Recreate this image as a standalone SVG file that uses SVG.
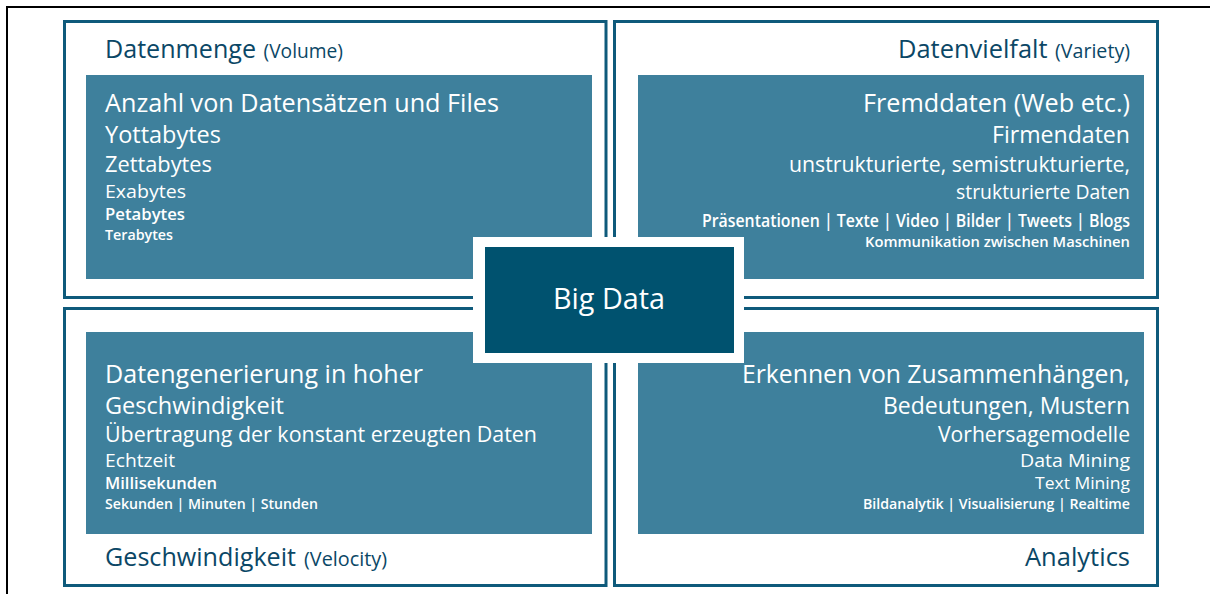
<svg xmlns="http://www.w3.org/2000/svg" width="1210" height="594" viewBox="0 0 1210 594">
<style>
.frame{fill:none;stroke:#000;stroke-width:2}
.quad{fill:#fff;stroke:#0f5a7b;stroke-width:3}
.inner{fill:#3e809c}
.t{font-family:"Open Sans","Noto Sans","Liberation Sans",sans-serif;fill:#fff}
.b{font-weight:600}
.title{font-family:"Open Sans","Noto Sans","Liberation Sans",sans-serif;fill:#0b4766}
</style>
<rect width="1210" height="594" fill="#fff"/>
<rect class="frame" x="7" y="7" width="1215" height="600"/>
<g id="q-volume">
<rect class="quad" x="64.5" y="21.5" width="541.5" height="276"/>
<rect class="inner" x="86" y="75" width="506" height="204"/>
<text class="title" x="105" y="58" font-size="26" textLength="151" lengthAdjust="spacingAndGlyphs">Datenmenge</text>
<text class="title" x="263.5" y="58" font-size="20" textLength="79.5" lengthAdjust="spacingAndGlyphs">(Volume)</text>
<text class="t" x="105" y="112" font-size="25" textLength="394" lengthAdjust="spacingAndGlyphs">Anzahl von Datensätzen und Files</text>
<text class="t" x="105" y="143" font-size="23" textLength="116" lengthAdjust="spacingAndGlyphs">Yottabytes</text>
<text class="t" x="105" y="172" font-size="22" textLength="107" lengthAdjust="spacingAndGlyphs">Zettabytes</text>
<text class="t" x="105" y="198" font-size="19" textLength="81" lengthAdjust="spacingAndGlyphs">Exabytes</text>
<text class="t b" x="105" y="220" font-size="16.5" textLength="80" lengthAdjust="spacingAndGlyphs">Petabytes</text>
<text class="t b" x="105" y="240" font-size="15" textLength="68" lengthAdjust="spacingAndGlyphs">Terabytes</text>
</g>
<g id="q-variety">
<rect class="quad" x="614.5" y="21.5" width="543" height="276"/>
<rect class="inner" x="638" y="75" width="506" height="204"/>
<text class="title" x="898" y="58" font-size="26" textLength="149.5" lengthAdjust="spacingAndGlyphs">Datenvielfalt</text>
<text class="title" x="1055" y="58" font-size="20" textLength="75" lengthAdjust="spacingAndGlyphs">(Variety)</text>
<text class="t" x="863" y="112" font-size="25" textLength="267" lengthAdjust="spacingAndGlyphs">Fremddaten (Web etc.)</text>
<text class="t" x="992" y="143" font-size="23" textLength="138" lengthAdjust="spacingAndGlyphs">Firmendaten</text>
<text class="t" x="789" y="172" font-size="21" textLength="341" lengthAdjust="spacingAndGlyphs">unstrukturierte, semistrukturierte,</text>
<text class="t" x="956" y="199" font-size="20" textLength="174" lengthAdjust="spacingAndGlyphs">strukturierte Daten</text>
<text class="t b" x="702" y="227" font-size="17.5" textLength="428" lengthAdjust="spacingAndGlyphs">Präsentationen | Texte | Video | Bilder | Tweets | Blogs</text>
<text class="t b" x="865" y="247" font-size="14.5" textLength="265" lengthAdjust="spacingAndGlyphs">Kommunikation zwischen Maschinen</text>
</g>
<g id="q-velocity">
<rect class="quad" x="64.5" y="308.5" width="541.5" height="277"/>
<rect class="inner" x="86" y="332" width="506" height="202"/>
<text class="t" x="105" y="383" font-size="25" textLength="318" lengthAdjust="spacingAndGlyphs">Datengenerierung in hoher</text>
<text class="t" x="105" y="414" font-size="23.5" textLength="179" lengthAdjust="spacingAndGlyphs">Geschwindigkeit</text>
<text class="t" x="105" y="442" font-size="21.5" textLength="432" lengthAdjust="spacingAndGlyphs">Übertragung der konstant erzeugten Daten</text>
<text class="t" x="105" y="467" font-size="19" textLength="70" lengthAdjust="spacingAndGlyphs">Echtzeit</text>
<text class="t b" x="105" y="489" font-size="16" textLength="112" lengthAdjust="spacingAndGlyphs">Millisekunden</text>
<text class="t b" x="105" y="509" font-size="14.5" textLength="213" lengthAdjust="spacingAndGlyphs">Sekunden | Minuten | Stunden</text>
<text class="title" x="105" y="566" font-size="25" textLength="191" lengthAdjust="spacingAndGlyphs">Geschwindigkeit</text>
<text class="title" x="304" y="566" font-size="20" textLength="83" lengthAdjust="spacingAndGlyphs">(Velocity)</text>
</g>
<g id="q-analytics">
<rect class="quad" x="614.5" y="308.5" width="543" height="277"/>
<rect class="inner" x="638" y="332" width="506" height="202"/>
<text class="t" x="742" y="383" font-size="25" textLength="388" lengthAdjust="spacingAndGlyphs">Erkennen von Zusammenhängen,</text>
<text class="t" x="883" y="414" font-size="23" textLength="247" lengthAdjust="spacingAndGlyphs">Bedeutungen, Mustern</text>
<text class="t" x="938" y="442" font-size="22" textLength="192" lengthAdjust="spacingAndGlyphs">Vorhersagemodelle</text>
<text class="t" x="1020" y="467" font-size="19" textLength="110" lengthAdjust="spacingAndGlyphs">Data Mining</text>
<text class="t" x="1035" y="489" font-size="17" textLength="95" lengthAdjust="spacingAndGlyphs">Text Mining</text>
<text class="t b" x="863" y="509" font-size="15" textLength="267" lengthAdjust="spacingAndGlyphs">Bildanalytik | Visualisierung | Realtime</text>
<text class="title" x="1025" y="566" font-size="25" textLength="105" lengthAdjust="spacingAndGlyphs">Analytics</text>
</g>
<g id="center-big-data">
<rect x="473" y="237" width="271" height="126" fill="#fff"/>
<rect x="485" y="247" width="249" height="106" fill="#00526f"/>
<text class="t" x="553" y="309" font-size="29" textLength="112" lengthAdjust="spacingAndGlyphs">Big Data</text>
</g>
<g id="connectors"/>
</svg>
